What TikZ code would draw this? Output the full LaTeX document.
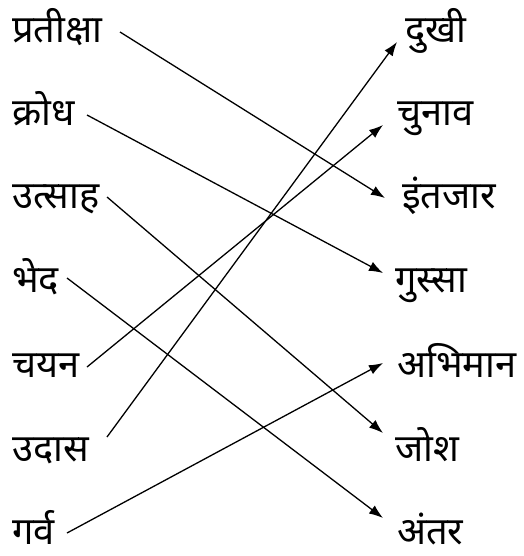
\documentclass[tikz,border=0pt]{standalone}
\usepackage{fontspec}
\newfontfamily\devfont[Script=Devanagari]{Noto Sans}
\usetikzlibrary{arrows.meta}

\begin{document}
\begin{tikzpicture}[x=1pt,y=-1pt,>={Latex[length=14pt,width=10pt]},
    word/.style={inner sep=0pt,font=\devfont\fontsize{38}{45}\selectfont},
    link/.style={->,line width=1.3pt}]
  \useasboundingbox (0,0) rectangle (523,556);
  % left column
  \node[word,anchor=base west] (pratiksha) at (12,43)  {प्रतीक्षा};
  \node[word,anchor=base west] (krodh)     at (12,126) {क्रोध};
  \node[word,anchor=base west] (utsah)     at (12,208) {उत्साह};
  \node[word,anchor=base west] (bhed)      at (12,292) {भेद};
  \node[word,anchor=base west] (chayan)    at (12,377) {चयन};
  \node[word,anchor=base west] (udas)      at (12,461) {उदास};
  \node[word,anchor=base west] (garv)      at (12,544) {गर्व};
  % right column
  \node[word,anchor=base west] (dukhi)   at (405,43)  {दुखी};
  \node[word,anchor=base west] (chunav)  at (397,126) {चुनाव};
  \node[word,anchor=base west] (intjar)  at (402,208) {इंतजार};
  \node[word,anchor=base west] (gussa)   at (395,292) {गुस्सा};
  \node[word,anchor=base west] (abhiman) at (397,377) {अभिमान};
  \node[word,anchor=base west] (josh)    at (395,461) {जोश};
  \node[word,anchor=base west] (antar)   at (397,544) {अंतर};
  % connectors
  \draw[link] ([shift={(108,-11)}]pratiksha.base west) -- ([shift={(-17,-10)}]intjar.base west);
  \draw[link] ([shift={(75,-11)}]krodh.base west) -- ([shift={(-12,-19)}]gussa.base west);
  \draw[link] ([shift={(95,-11)}]utsah.base west) -- ([shift={(-12,-28)}]josh.base west);
  \draw[link] ([shift={(55,-14)}]bhed.base west) -- ([shift={(-14,-26)}]antar.base west);
  \draw[link] ([shift={(75,-10)}]chayan.base west) -- ([shift={(-14,-1)}]chunav.base west);
  \draw[link] ([shift={(95,-24)}]udas.base west) -- ([shift={(-8,-1)}]dukhi.base west);
  \draw[link] ([shift={(55,-11)}]garv.base west) -- ([shift={(-14,-14)}]abhiman.base west);
\end{tikzpicture}
\end{document}
